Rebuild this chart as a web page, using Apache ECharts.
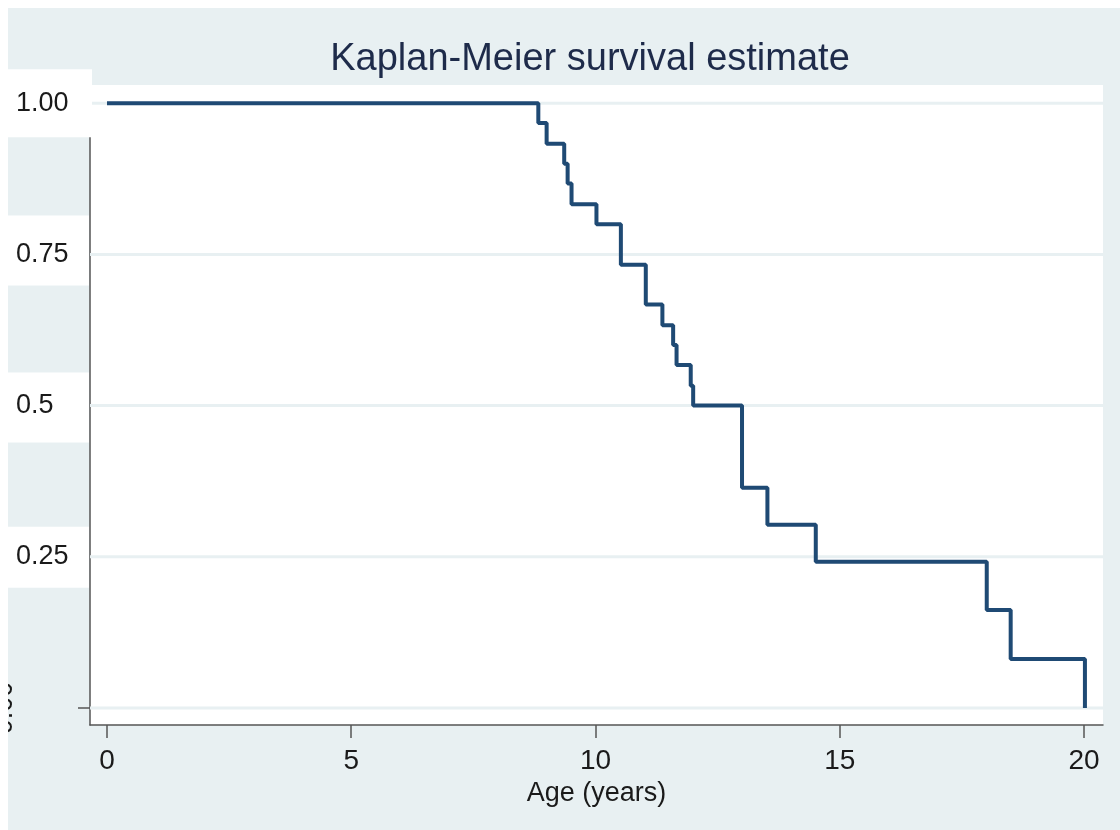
<!DOCTYPE html>
<html><head><meta charset="utf-8">
<script src="https://cdn.jsdelivr.net/npm/echarts@6/dist/echarts.min.js"></script>
<style>html,body{margin:0;padding:0;background:#e8f0f2}#c{width:1120px;height:830px}</style>
</head><body><div id="c"></div>
<script>
// Kaplan-Meier step data (time in years, survival probability)
const times = [0, 8.83, 9.0, 9.36, 9.43, 9.51, 10.02, 10.52, 11.03, 11.37, 11.59, 11.66, 11.95, 12.0, 13.0, 13.52, 14.51, 18.01, 18.5, 20.02];
const survival = [1, 0.967, 0.933, 0.9, 0.867, 0.833, 0.8, 0.733, 0.667, 0.633, 0.6, 0.567, 0.533, 0.5, 0.364, 0.303, 0.242, 0.162, 0.081, 0];
const xTicks = [0, 5, 10, 15, 20];
const xTickLabels = ['0', '5', '10', '15', '20'];
const yTicks = [0, 0.25, 0.5, 0.75, 1];
const yTickLabels = ['0.00', '0.25', '0.5', '0.75', '1.00'];
const titleText = 'Kaplan-Meier survival estimate';
const xName = 'Age (years)';

const FONT = "'Liberation Sans', Arial, sans-serif";
const BG = '#e8f0f2';
const X_MIN = -0.348, X_MAX = 20.39, Y_MIN = -0.028, Y_MAX = 1.03;
const chart = echarts.init(document.getElementById('c'));
const kmData = times.map((t, i) => [t, survival[i]]);

const gridSeries = yTicks.map(v => ({
  type: 'line', z: 1, silent: true, showSymbol: false,
  data: [[X_MIN, v], [X_MAX, v]],
  lineStyle: { color: BG, width: 3 }
}));

chart.setOption({
  animation: false,
  backgroundColor: BG,
  title: {
    text: titleText, left: 585, top: 36, textAlign: 'center',
    textStyle: { fontFamily: FONT, fontSize: 38, fontWeight: 'normal', color: '#1e2b4a' }
  },
  grid: { left: 90, right: 17, top: 85, bottom: 105, show: true, backgroundColor: '#ffffff', borderWidth: 0 },
  xAxis: {
    type: 'value', min: X_MIN, max: X_MAX,
    name: xName, nameLocation: 'middle', nameGap: 50,
    nameTextStyle: { fontFamily: FONT, fontSize: 27, color: '#1a1a1a' },
    axisLine: { show: true, onZero: false, lineStyle: { color: '#555', width: 1.5 } },
    axisTick: { show: true, customValues: xTicks, length: 13, lineStyle: { color: '#555', width: 1.5 } },
    axisLabel: {
      customValues: xTicks, margin: 22,
      formatter: v => xTickLabels[xTicks.indexOf(v)] ?? '',
      fontFamily: FONT, fontSize: 28, color: '#1a1a1a'
    },
    splitLine: { show: false }
  },
  yAxis: {
    type: 'value', min: Y_MIN, max: Y_MAX,
    axisLine: { show: true, onZero: false, lineStyle: { color: '#555', width: 1.5 } },
    axisTick: { show: true, customValues: [yTicks[0]], length: 12, lineStyle: { color: '#555', width: 1.5 } },
    axisLabel: { show: false, customValues: yTicks },
    splitLine: { show: false }
  },
  series: gridSeries.concat([
    {
      type: 'line', z: 3, data: kmData, step: 'end', showSymbol: false,
      lineStyle: { color: '#1f4a74', width: 4 }
    }
  ])
});

// y tick labels as text on white patches (as in the original export)
const patchOffsets = [null, [-30, 31], [-33, 37], [-39, 31], [-34, 34]];
const graphics = [];
yTicks.forEach((v, i) => {
  const cy = chart.convertToPixel({ yAxisIndex: 0 }, v);
  if (i === 0) {
    graphics.push({
      type: 'text', x: 18, y: cy, rotation: Math.PI / 2, z: 10,
      style: { text: yTickLabels[i], font: '27px ' + FONT, fill: '#1a1a1a', textAlign: 'center', textVerticalAlign: 'bottom' }
    });
    return;
  }
  const off = patchOffsets[i];
  graphics.push({
    type: 'rect', z: 5, shape: { x: 8, y: cy + off[0], width: i === 4 ? 84 : 81, height: off[1] - off[0] },
    style: { fill: '#ffffff' }
  });
  graphics.push({
    type: 'text', x: 16, y: cy, z: 10,
    style: { text: yTickLabels[i], font: '27px ' + FONT, fill: '#1a1a1a', textAlign: 'left', textVerticalAlign: 'middle' }
  });
});
graphics.push({ type: 'rect', z: 100, shape: { x: 0, y: 0, width: 1120, height: 8 }, style: { fill: '#ffffff' } });
graphics.push({ type: 'rect', z: 100, shape: { x: 0, y: 0, width: 8, height: 830 }, style: { fill: '#ffffff' } });
chart.setOption({ graphic: graphics });
</script>
</body></html>
